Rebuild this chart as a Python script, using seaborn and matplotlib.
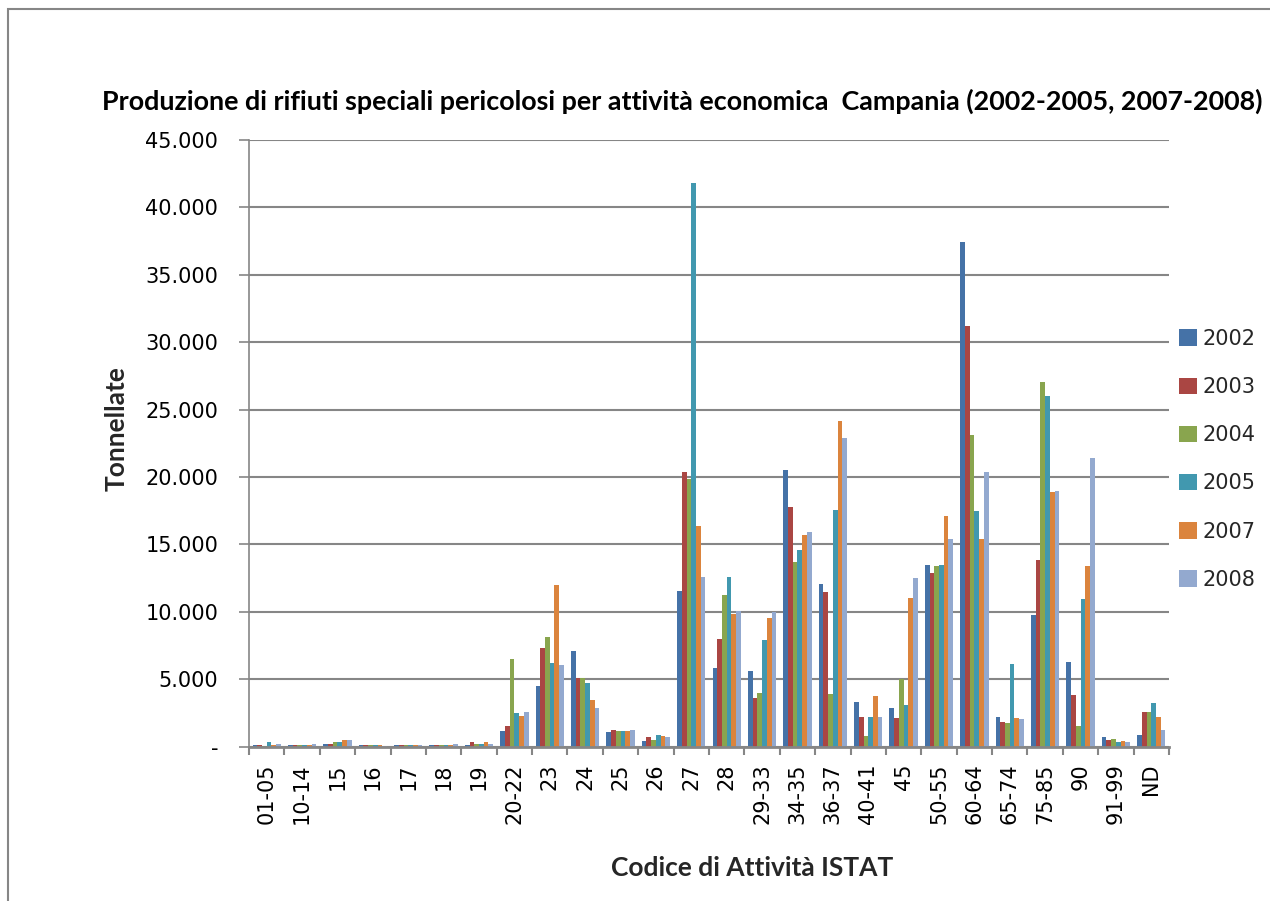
import matplotlib
matplotlib.use("Agg")
import matplotlib.pyplot as plt
from matplotlib.patches import Rectangle
from matplotlib.ticker import FuncFormatter, FixedLocator
import numpy as np
import pandas as pd
import seaborn as sns

# Codici ATECO/ISTAT e tonnellate per anno
codici = ["01-05", "10-14", "15", "16", "17", "18", "19", "20-22", "23", "24",
          "25", "26", "27", "28", "29-33", "34-35", "36-37", "40-41", "45",
          "50-55", "60-64", "65-74", "75-85", "90", "91-99", "ND"]
anni = ["2002", "2003", "2004", "2005", "2007", "2008"]

t2002 = [100, 100, 200, 100, 100, 100, 100, 1160, 4480, 7100, 1080, 420, 11520,
         5860, 5590, 20540, 12080, 3320, 2870, 13480, 37400, 2180, 9750, 6260, 690, 840]
t2003 = [100, 100, 200, 100, 100, 100, 350, 1530, 7330, 5120, 1220, 710, 20400,
         7990, 3600, 17800, 11480, 2200, 2130, 12890, 31220, 1800, 13830, 3810, 470, 2550]
t2004 = [80, 100, 350, 100, 100, 100, 200, 6510, 8130, 5120, 1150, 490, 19880,
         11220, 3960, 13710, 3910, 790, 5000, 13400, 23130, 1750, 27040, 1510, 540, 2550]
t2005 = [350, 100, 350, 100, 100, 100, 200, 2500, 6220, 4750, 1150, 860, 41800,
         12620, 7950, 14600, 17570, 2200, 3090, 13480, 17480, 6130, 26000, 10930, 320, 3210]
t2007 = [120, 100, 500, 100, 100, 100, 350, 2280, 12030, 3500, 1150, 780, 16370,
         9820, 9580, 15720, 24180, 3760, 11040, 17110, 15410, 2120, 18880, 13380, 400, 2180]
t2008 = [200, 180, 500, 30, 100, 200, 200, 2570, 6080, 2840, 1220, 710, 12620,
         10050, 10010, 15940, 22920, 2200, 12520, 15410, 20370, 2040, 18950, 21390, 320, 1210]

serie = [t2002, t2003, t2004, t2005, t2007, t2008]
colori = ["#4572A7", "#AA4643", "#89A54E", "#4198AF", "#DB843D", "#93A9CF"]

df = pd.DataFrame({
    "Codice": codici * len(anni),
    "Anno": [a for a in anni for _ in codici],
    "Tonnellate": [v for s in serie for v in s],
})

sns.set_theme(style="white")
plt.rcParams["font.family"] = ["DejaVu Sans"]

GRIGIO = "#868686"
W, H = 1270, 901
X0, X1, Y0, Y1 = 249, 1169, 746.7, 140   # area del grafico in pixel
fig = plt.figure(figsize=(W / 100, H / 100), dpi=100)
ax = fig.add_axes([X0 / W, 1 - Y0 / H, (X1 - X0) / W, (Y0 - Y1) / H])

sns.barplot(data=df, x="Codice", y="Tonnellate", hue="Anno", order=codici,
            hue_order=anni, palette=colori, saturation=1, width=0.8,
            linewidth=0, ax=ax)

ax.set_xlim(-0.5, len(codici) - 0.5)
ax.set_ylim(0, 45000)
ax.set_yticks(np.arange(0, 45001, 5000))
ax.yaxis.set_major_formatter(FuncFormatter(
    lambda v, _: "-" if v == 0 else f"{int(v):,}".replace(",", ".")))
ax.yaxis.grid(True, color=GRIGIO, linewidth=1.5)
ax.set_axisbelow(True)

for lato in ["top", "right"]:
    ax.spines[lato].set_visible(False)
for lato in ["left", "bottom"]:
    ax.spines[lato].set_color(GRIGIO)
ax.spines["left"].set_linewidth(1.2)
ax.spines["bottom"].set_linewidth(2.0)

# etichette sulle categorie, tacche sui confini tra categorie
ax.tick_params(axis="x", which="major", length=0, pad=12, labelsize=15,
               labelrotation=90, labelcolor="black")
ax.xaxis.set_minor_locator(FixedLocator(np.arange(-0.5, len(codici), 1.0)))
ax.tick_params(axis="x", which="minor", length=6, width=1.5, color=GRIGIO,
               direction="out", bottom=True)
ax.tick_params(axis="y", which="major", length=7.2, width=1.2, color=GRIGIO,
               direction="out", left=True, labelsize=15, pad=15,
               labelcolor="black")
for t in ax.get_xticklabels():
    t.set_verticalalignment("top")

ax.set_xlabel("Codice di Attività ISTAT", family="Lato", fontweight="bold",
              fontsize=19)
ax.set_ylabel("Tonnellate", family="Lato", fontweight="bold", fontsize=19)
ax.xaxis.set_label_coords((752 - X0) / (X1 - X0), -(856 - Y0) / (Y0 - Y1))
ax.yaxis.set_label_coords(-(X0 - 129) / (X1 - X0), (Y0 - 429) / (Y0 - Y1))

fig.text(682 / W, 1 - 101 / H,
         "Produzione di rifiuti speciali pericolosi per attività economica  "
         "Campania (2002-2005, 2007-2008)",
         family="Lato", fontweight="bold", fontsize=19.4,
         ha="center", va="center", color="black")

leg = ax.legend(loc="upper left", bbox_to_anchor=(1179 / W, 1 - 329 / H),
                bbox_transform=fig.transFigure, frameon=False, fontsize=15,
                handlelength=0.85, handleheight=0.85, handletextpad=0.3,
                labelspacing=1.35, borderpad=0, borderaxespad=0)

# cornice dell'area del grafico
fig.add_artist(Rectangle((8 / W, -0.1), 1.2, 1 - 9 / H + 0.1,
                         transform=fig.transFigure, fill=False,
                         edgecolor=GRIGIO, linewidth=1.5))

fig.savefig("out.png", dpi=100, facecolor="white")
